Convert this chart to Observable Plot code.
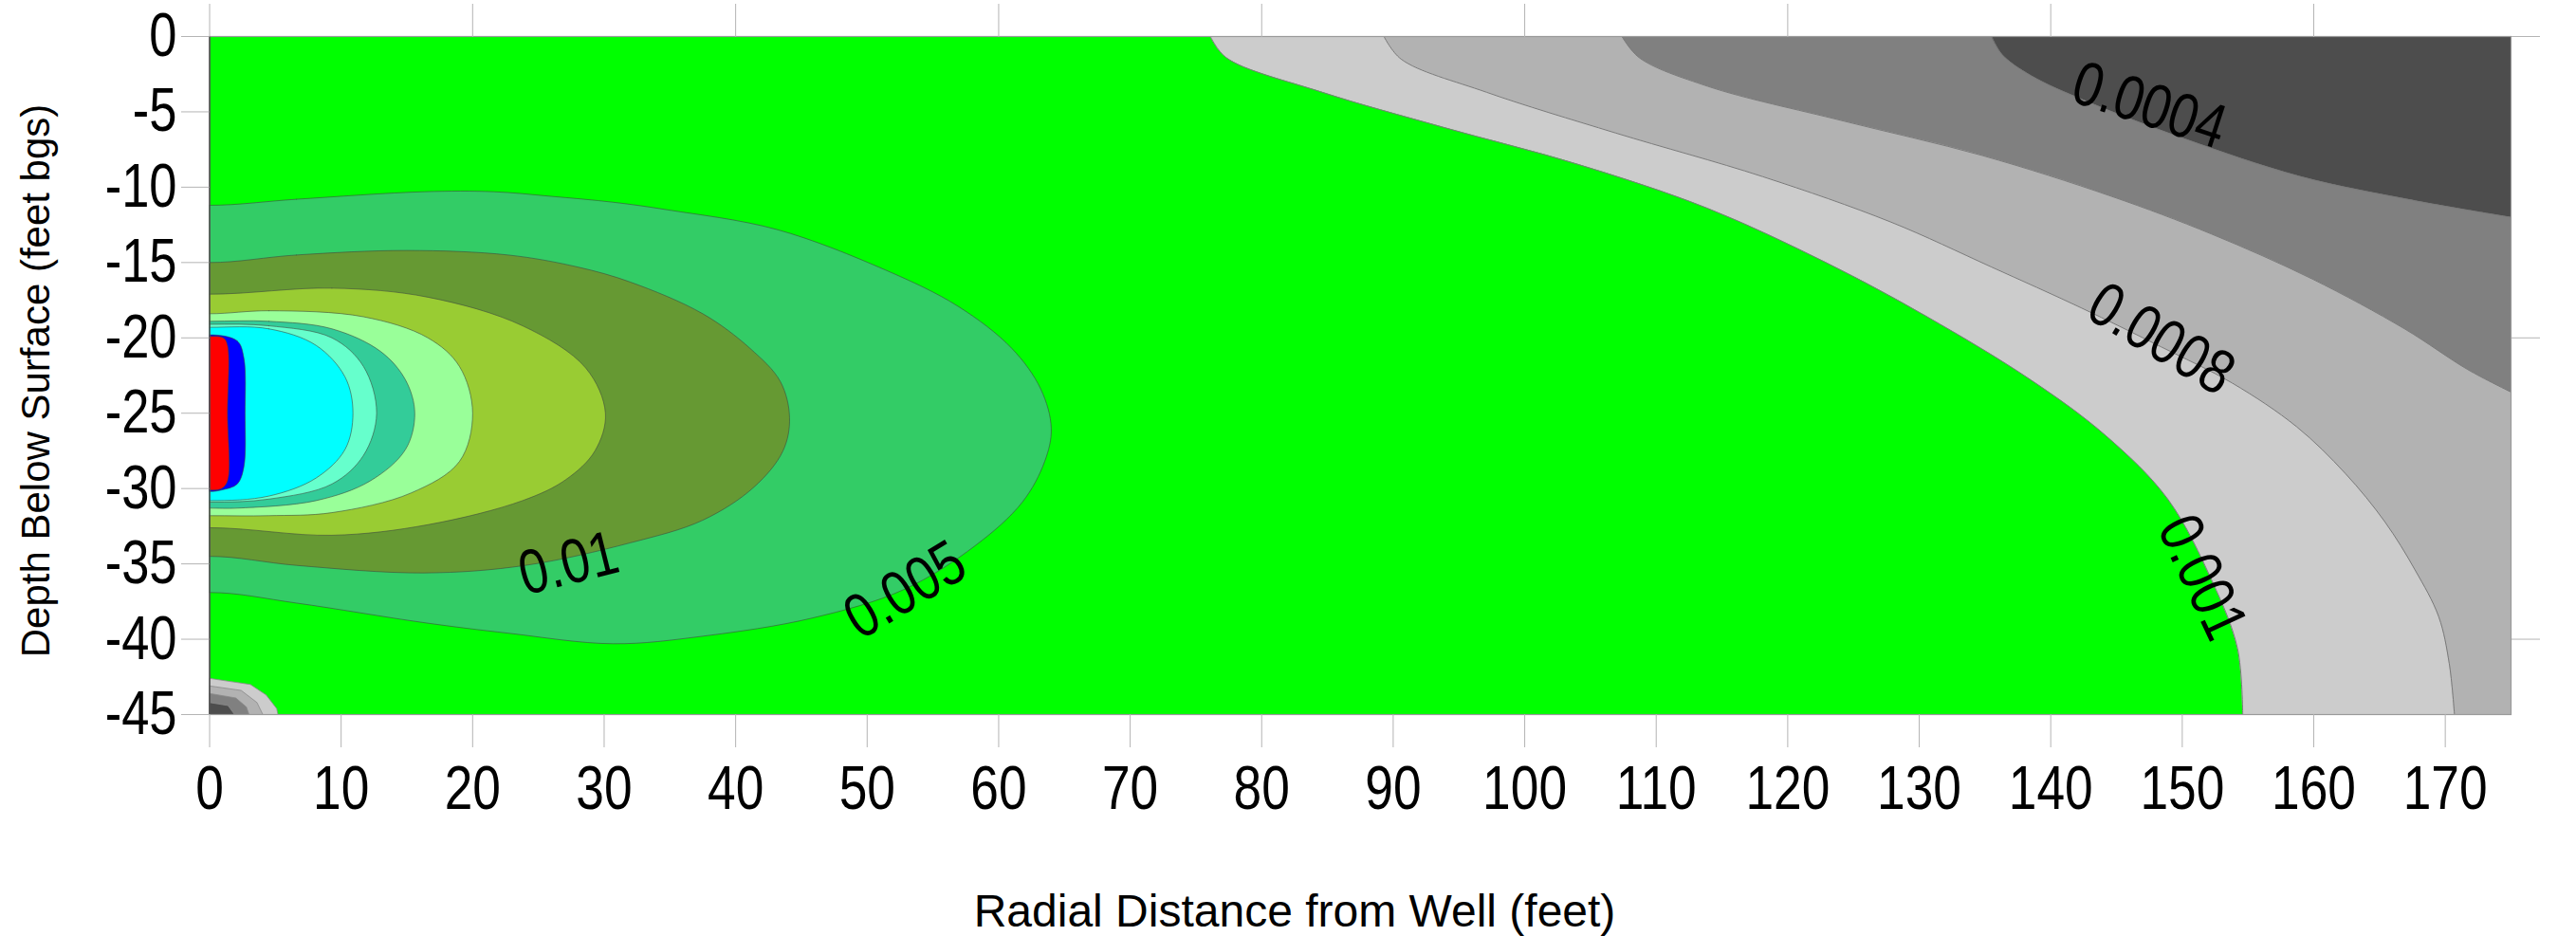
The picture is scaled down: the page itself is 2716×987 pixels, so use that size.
<!DOCTYPE html>
<html><head><meta charset="utf-8">
<script src="https://cdn.jsdelivr.net/npm/d3@7"></script>
<script src="https://cdn.jsdelivr.net/npm/@observablehq/plot@0.6"></script>
<style>
html,body{margin:0;padding:0;background:#fff;}
#chart svg{display:block;}
</style></head><body><div id="chart"></div>
<script>
// ---------- axes ----------
const xTicks = [0,10,20,30,40,50,60,70,80,90,100,110,120,130,140,150,160,170];
const xTopTicks = [0,20,40,60,80,100,120,140,160];
const yTicks = [0,-5,-10,-15,-20,-25,-30,-35,-40,-45];
const yRightTicks = [0,-20,-40];
const xTitle = "Radial Distance from Well (feet)";
const yTitle = "Depth Below Surface (feet bgs)";

// ---------- plume contours around the well screen [radial ft, depth ft], half shapes from r = 0 ----------
const plume0005 = [[0,-11.2],[6.6,-10.8],[16.3,-10.3],[21.6,-10.3],[25.9,-10.6],[30.7,-11.0],[34.8,-11.5],[43.1,-12.8],[51.4,-15.5],[56.9,-17.9],[61.0,-20.7],[63.2,-23.4],[64.0,-26.0],[63.5,-28.2],[61.8,-30.9],[58.2,-33.8],[52.8,-36.7],[45.8,-38.6],[37.5,-39.8],[30.7,-40.3],[22.7,-39.6],[16.3,-38.9],[6.6,-37.6],[0,-36.9]];
const plume001 = [[0,-15.0],[6.6,-14.5],[15.0,-14.2],[22.7,-14.5],[28.0,-15.3],[32.0,-16.3],[37.5,-18.4],[41.1,-20.7],[43.4,-22.9],[44.1,-25.3],[43.6,-27.5],[41.4,-29.9],[37.5,-32.1],[32.0,-33.6],[24.0,-35.1],[16.3,-35.6],[6.6,-35.1],[0,-34.5]];
const plume002 = [[0,-17.1],[9.3,-16.7],[16.6,-17.3],[23.8,-19.2],[28.6,-22.0],[30.1,-25.0],[29.3,-27.5],[27.1,-29.4],[23.8,-30.8],[16.6,-32.4],[9.3,-33.1],[0,-32.6]];
const plume003 = [[0,-18.4],[4.5,-18.2],[11.7,-18.6],[16.6,-20.0],[19.0,-21.9],[20.0,-25.0],[19.0,-28.2],[15.3,-30.3],[9.3,-31.6],[4.5,-31.8],[0,-31.8]];
const plume004 = [[0,-18.9],[4.5,-18.9],[9.3,-19.4],[13.0,-20.9],[14.9,-22.8],[15.6,-25.0],[14.9,-27.4],[12.2,-29.5],[8.1,-30.8],[2.1,-31.3],[0,-31.3]];
const plume005 = [[0,-19.1],[4.5,-19.2],[9.3,-20.0],[11.7,-21.9],[12.7,-25.0],[11.7,-27.8],[9.3,-29.7],[4.5,-30.7],[0,-30.9]];
const plume006 = [[0,-19.3],[4.5,-19.4],[8.1,-20.5],[10.3,-22.6],[10.9,-25.0],[10.3,-27.4],[8.1,-29.3],[4.5,-30.5],[0,-30.8]];
const plume007 = [[0,-19.8],[2.1,-20.2],[2.6,-21.3],[2.7,-25.0],[2.6,-28.6],[2.1,-29.7],[0.9,-30.1],[0,-30.2]];
const plume008 = [[0,-19.9],[1.05,-20.0],[1.36,-20.5],[1.36,-25.0],[1.36,-29.5],[0.9,-30.0],[0,-30.1]];

// ---------- far-field contours (upper right), boundary x at each depth ----------
const far0001  = [[76.1,0],[77.3,-1.4],[84.6,-3.7],[93.7,-6.0],[104.1,-8.5],[113.9,-11.4],[122.9,-15.0],[130.6,-18.6],[138.5,-22.8],[144.2,-26.5],[148.9,-30.7],[152.3,-36.2],[154.2,-40.6],[154.6,-45]];
const far00008 = [[89.3,0],[90.6,-1.5],[97.1,-3.7],[106.9,-6.4],[118.1,-9.3],[127.8,-12.3],[135.5,-15.3],[142.3,-18.0],[148.4,-20.6],[153.8,-23.0],[158.7,-25.9],[162.4,-29.0],[165.4,-32.2],[167.7,-35.4],[169.5,-38.5],[170.3,-41.6],[170.7,-45]];
const far00006 = [[107.4,0],[108.7,-1.4],[113.9,-3.3],[124.2,-5.6],[134.8,-7.9],[144.6,-10.6],[152.2,-13.1],[159.9,-16.1],[166.9,-19.4],[171.7,-22.1],[175,-23.6]];
const far00004 = [[135.5,0],[136.3,-1.2],[138.5,-2.6],[142.7,-4.3],[150.2,-6.8],[159.0,-9.3],[167.7,-10.9],[175,-12.0]];

// ---------- small rings at the bottom corner ----------
const corner1 = [[0,-42.6],[3.1,-43.0],[4.3,-43.7],[5.1,-44.6],[5.2,-45],[0,-45]];
const corner2 = [[0,-43.1],[2.4,-43.4],[3.6,-44.2],[4.05,-45],[0,-45]];
const corner3 = [[0,-43.6],[2.0,-43.9],[2.8,-44.5],[3.0,-45],[0,-45]];
const corner4 = [[0,-44.2],[1.4,-44.4],[1.9,-45],[0,-45]];

// ---------- contour labels ----------
const labelText  = ["0.0004","0.0008","0.001","0.005","0.01"];
const labelX     = [147.5, 148.4, 151.5, 52.9, 27.3];
const labelY     = [-4.6, -20.1, -35.9, -36.75, -35.0];
const labelAngle = [18, 31, 65, -31, -14];

// ---------- styles ----------
const XMAX = 175;
const plumeColors = ["#33cc66","#669933","#99cc33","#99ff99","#33cc99","#66ffcc","#00ffff","#0000ff","#ff0000"];
const farColors = ["#cccccc","#b2b2b2","#808080","#4d4d4d"];
const numFont = "'Liberation Sans', Arial, sans-serif";
const titleFont = "'Liberation Sans', Arial, sans-serif";
const NARROW = 0.82;

// radial symmetry about the well axis: mirror to r<0 (clipped away) so the curve meets r=0 smoothly
function mirrored(pts) {
  const left = pts.filter(([x]) => x > 0).slice().reverse().map(([x, y]) => [-x, y]);
  return pts.concat(left);
}

const plumes = [plume0005, plume001, plume002, plume003, plume004, plume005, plume006, plume007, plume008];
const fars = [far0001, far00008, far00006, far00004];
const corners = [corner1, corner2, corner3, corner4];

const labels = labelText.map((t, i) => ({t, x: labelX[i], y: labelY[i], a: labelAngle[i]}));

const marks = [Plot.frame({fill: "#00ff00", stroke: null})];

plumes.forEach((p, i) => {
  marks.push(Plot.line(mirrored(p), {
    x: d => d[0], y: d => d[1], curve: "catmull-rom-closed",
    fill: plumeColors[i], stroke: "#3d4a3d", strokeWidth: 0.9, strokeOpacity: 0.65, clip: true
  }));
});

fars.forEach((b, i) => {
  marks.push(Plot.areaX(b, {
    y: d => d[1], x1: d => d[0], x2: () => XMAX, curve: "catmull-rom",
    fill: farColors[i], clip: true
  }));
  marks.push(Plot.line(b, {
    x: d => d[0], y: d => d[1], curve: "catmull-rom",
    stroke: "#7a7a7a", strokeWidth: 1, clip: true
  }));
});

corners.forEach((c, i) => {
  marks.push(Plot.line(c, {
    x: d => d[0], y: d => d[1], curve: "linear-closed",
    fill: farColors[i], stroke: "#8a8a8a", strokeWidth: 0.8, clip: true
  }));
});

marks.push(Plot.text(labels, {
  x: "x", y: "y", text: "t", rotate: "a",
  fontSize: 66, fontFamily: numFont, fill: "black",
  textAnchor: "middle", lineAnchor: "middle"
}));

marks.push(Plot.frame({stroke: "#9a9a9a", strokeWidth: 1.2}));
marks.push(Plot.ruleX([0], {stroke: "#333", strokeWidth: 1.2}));

marks.push(Plot.axisX(xTicks, {
  anchor: "bottom", tickSize: 35, tickPadding: 18, tickFormat: d => String(d),
  stroke: "#b4b4b4", fill: "black", fontSize: 65, fontFamily: numFont, label: null
}));
marks.push(Plot.axisX(xTopTicks, {
  anchor: "top", tickSize: 35, tickFormat: () => "", stroke: "#b4b4b4", label: null
}));
marks.push(Plot.axisY(yTicks, {
  anchor: "left", tickSize: 29.5, tickPadding: 5, tickFormat: d => String(d),
  stroke: "#b4b4b4", fill: "black", fontSize: 64, fontFamily: numFont, label: null
}));
marks.push(Plot.axisY(yRightTicks, {
  anchor: "right", tickSize: 30, tickFormat: () => "", stroke: "#b4b4b4", label: null
}));

marks.push(Plot.text([xTitle], {
  text: d => d, frameAnchor: "bottom", lineAnchor: "bottom", textAnchor: "middle",
  dx: -69.25, dy: 223, fontSize: 48, fontFamily: titleFont, fill: "black"
}));
marks.push(Plot.text([yTitle], {
  text: d => d, frameAnchor: "left", lineAnchor: "bottom", textAnchor: "middle", rotate: -90,
  dx: -169.5, dy: 5.5, fontSize: 42, fontFamily: titleFont, fill: "black"
}));

const chart = Plot.plot({
  width: 2716, height: 987,
  marginLeft: 220.5, marginRight: 69, marginTop: 38, marginBottom: 234,
  x: {domain: [0, XMAX], axis: null},
  y: {domain: [-45, 0], axis: null},
  style: {background: "white", color: "black"},
  marks
});

// condensed numerals (like Arial Narrow) by squeezing along the text baseline
const numericTexts = new Set(labelText);
chart.querySelectorAll("text").forEach(t => {
  const s = t.textContent.trim();
  if (s !== "" && (numericTexts.has(s) || /^-?\d+$/.test(s))) {
    const tr = t.getAttribute("transform") || "";
    t.setAttribute("transform", (tr + ` scale(${NARROW},1)`).trim());
  }
});

document.getElementById("chart").appendChild(chart);
</script>
</body></html>
